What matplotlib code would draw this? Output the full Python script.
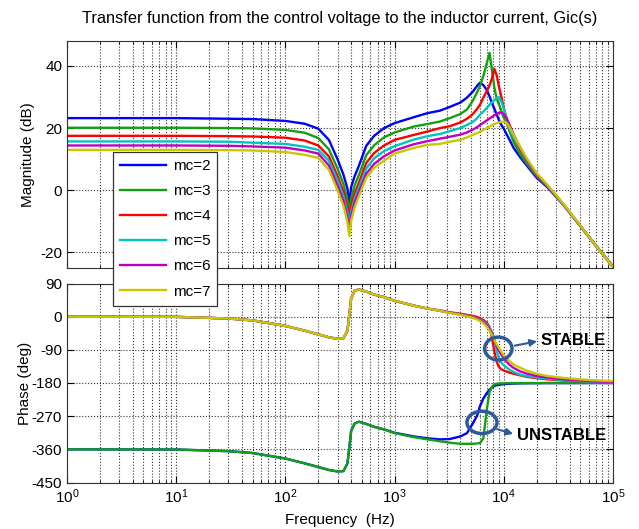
import matplotlib
matplotlib.use("Agg")
import matplotlib.pyplot as plt
from matplotlib.patches import Ellipse
import numpy as np

plt.rcParams['font.family'] = ['Liberation Sans', 'DejaVu Sans']
plt.rcParams['axes.unicode_minus'] = False

# ---------------- data ----------------
freq = [1, 10, 30, 50, 100, 150, 200, 250, 300, 340, 370, 385, 400, 430, 470, 550,
        650, 800, 1000, 1500, 2000, 2600, 3200, 4000, 4600, 5200, 5700, 6050, 6500,
        7000, 7400, 7800, 8200, 8600, 9000, 9500, 10000, 10600, 11300, 12300, 14000,
        16000, 20000, 25000, 35000, 50000, 70000, 100000]

labels = ['mc=2', 'mc=3', 'mc=4', 'mc=5', 'mc=6', 'mc=7']

mag_mc2 = [23.2, 23.2, 23.0, 22.9, 22.3, 21.4, 19.8, 16.2, 10.0, 5.0, 0.5, -4.5, 1.0, 4.5, 7.8, 14.3,
           17.5, 20.0, 21.6, 23.5, 24.8, 25.6, 26.8, 28.2, 29.8, 31.7, 33.6, 34.6, 33.8,
           32.2, 30.2, 28.0, 26.2, 24.4, 22.6, 21.0, 19.8, 18.0, 16.2, 13.6, 10.8,
           8.2, 4.0, 1.0, -4.6, -11.4, -17.9, -24.6]
mag_mc3 = [20.1, 20.1, 20.0, 19.9, 19.4, 18.5, 16.8, 13.2, 7.0, 2.0, -3.0, -7.6, -2.5, 1.5, 4.8, 11.3,
           14.5, 17.0, 18.6, 20.5, 21.3, 22.1, 23.2, 24.5, 26.0, 28.8, 31.5, 33.5, 36.8,
           41.0, 44.2, 38.5, 33.0, 29.5, 27.8, 25.5, 23.3, 21.6, 19.0, 15.5, 11.8,
           8.8, 4.5, 1.2, -4.6, -11.4, -17.9, -24.6]
mag_mc4 = [17.5, 17.5, 17.4, 17.3, 16.9, 16.0, 14.4, 10.9, 4.6, -0.5, -5.5, -10.0, -5.0, -1.0, 2.3, 8.8,
           12.0, 14.4, 16.2, 17.8, 18.9, 20.0, 20.6, 21.8, 23.0, 24.5, 26.2, 27.5, 29.8,
           32.0, 33.8, 36.0, 39.0, 37.0, 33.5, 30.0, 26.5, 23.0, 20.3, 17.0, 13.3,
           9.8, 4.8, 1.4, -4.5, -11.4, -17.9, -24.6]
mag_mc5 = [15.7, 15.7, 15.6, 15.3, 14.9, 14.0, 13.0, 9.5, 3.2, -2.0, -7.3, -11.8, -6.8, -2.7, 0.8, 7.0,
           10.3, 12.6, 14.2, 16.3, 17.4, 18.1, 19.0, 20.0, 21.0, 22.0, 23.2, 24.3, 25.3,
           26.5, 27.5, 28.3, 29.0, 29.7, 29.9, 28.5, 26.3, 23.0, 19.8, 17.0, 13.8,
           10.0, 5.0, 1.5, -4.5, -11.4, -17.9, -24.6]
mag_mc6 = [14.4, 14.4, 14.3, 14.1, 13.7, 12.8, 11.8, 8.0, 1.5, -3.5, -8.8, -13.3, -8.3, -4.0, -0.6, 5.3,
           8.5, 10.9, 12.8, 14.8, 15.8, 16.6, 17.2, 17.9, 18.6, 19.5, 20.3, 21.0, 21.7,
           22.5, 23.1, 23.6, 24.1, 24.6, 24.9, 25.0, 24.5, 23.2, 21.0, 18.0, 14.0,
           10.3, 5.2, 1.6, -4.4, -11.4, -17.9, -24.6]
mag_mc7 = [13.0, 13.0, 12.9, 12.8, 12.3, 11.4, 10.4, 6.6, 0.0, -5.0, -10.3, -14.7, -9.8, -5.5, -2.0, 4.0,
           7.2, 9.5, 11.8, 13.6, 14.6, 14.9, 15.6, 16.2, 17.0, 17.8, 18.4, 18.8, 19.4,
           20.0, 20.5, 20.9, 21.3, 21.6, 21.8, 22.0, 22.1, 21.7, 20.3, 17.8, 14.1,
           10.6, 5.5, 1.8, -4.3, -11.3, -17.9, -24.6]

ph_mc2 = [-360, -360.5, -365, -370, -385, -398, -408, -416, -420, -419, -398, -355, -310, -290, -285, -291,
          -299, -306, -315, -325, -330, -333, -332, -325, -316, -290, -268, -243, -222,
          -207, -198, -192, -188, -186, -185, -184, -183, -182.5, -182, -181.5, -181,
          -180.7, -180.5, -180.3, -180.2, -180.1, -180, -180]
ph_mc3 = [-360, -360.5, -365, -370, -385, -398, -408, -416, -420, -419, -398, -355, -310, -290, -285, -291,
          -299, -306, -316, -327, -333, -338, -342, -345, -345, -345, -344, -343, -330,
          -250, -205, -190, -184, -182, -181.5, -181, -180.8, -180.6, -180.5, -180.4, -180.3,
          -180.2, -180.1, -180, -180, -180, -180, -180]
ph_mc4 = [0, -0.5, -5, -10, -25, -38, -48, -56, -60, -59, -38, 5, 50, 70, 74, 68,
          60, 53, 43, 30, 22, 17, 12, 8, 5, 2, -1, -4, -9,
          -16, -28, -58, -95, -122, -136, -143, -146, -149, -152, -155, -159,
          -163, -167, -170, -173, -175, -177, -178]
ph_mc5 = [0, -0.5, -5, -10, -25, -38, -48, -56, -60, -59, -38, 5, 50, 70, 74, 68,
          60, 53, 43, 30, 22, 16, 11, 6, 3, -1, -5, -8, -13,
          -20, -30, -42, -62, -93, -113, -125, -132, -138, -144, -150, -157,
          -161, -165, -168, -172, -175, -177, -178]
ph_mc6 = [0, -0.5, -5, -10, -25, -38, -48, -56, -60, -59, -38, 5, 50, 70, 74, 68,
          60, 53, 43, 30, 22, 16, 11, 6, 2, -2, -6, -10, -15,
          -23, -33, -46, -66, -80, -92, -103, -113, -122, -131, -139, -148,
          -154, -161, -165, -170, -173, -176, -177]
ph_mc7 = [0, -0.5, -5, -10, -25, -38, -48, -56, -60, -59, -38, 5, 50, 70, 74, 68,
          60, 53, 43, 30, 22, 16, 10, 5, 1, -3, -8, -12, -18,
          -28, -38, -50, -64, -75, -84, -95, -105, -112, -121, -130, -138,
          -146, -155, -161, -166, -170, -173, -175]

mags = [mag_mc2, mag_mc3, mag_mc4, mag_mc5, mag_mc6, mag_mc7]
phases = [ph_mc2, ph_mc3, ph_mc4, ph_mc5, ph_mc6, ph_mc7]
colors = ['#0000FF', '#12A012', '#FF0000', '#00C4C4', '#C000C0', '#C8C800']

mag_ticks = [-20, 0, 20, 40]
phase_ticks = [-450, -360, -270, -180, -90, 0, 90]

# ---------------- figure ----------------
W, H = 639, 529
fig = plt.figure(figsize=(W / 100, H / 100), dpi=100)
L, R = 67, 613
ax1 = fig.add_axes([L / W, 1 - 268 / H, (R - L) / W, (268 - 41) / H])
ax2 = fig.add_axes([L / W, 1 - 482.5 / H, (R - L) / W, (482.5 - 283.5) / H])

lines = []
for m, c, lab in zip(mags, colors, labels):
    ln, = ax1.semilogx(freq, m, color=c, lw=1.7, label=lab)
    lines.append(ln)
for p, c in zip(phases, colors):
    ax2.semilogx(freq, p, color=c, lw=1.7)

for ax in (ax1, ax2):
    ax.set_xlim(1, 1e5)
    ax.grid(True, which='major', linestyle=':', color='#333333', linewidth=0.8)
    ax.grid(True, which='minor', axis='x', linestyle=':', color='#333333', linewidth=0.8)
    ax.tick_params(which='both', direction='in', top=True, right=True, labelsize=11)
    ax.tick_params(which='major', length=5)
    ax.tick_params(which='minor', length=2.5)
    for s in ax.spines.values():
        s.set_linewidth(0.8)
        s.set_color('#333333')

ax1.set_ylim(-25, 48)
ax1.set_yticks(mag_ticks)
ax1.set_xticklabels([])
ax1.tick_params(axis='x', which='both', labelbottom=False)
ax1.set_ylabel('Magnitude (dB)', fontsize=11, labelpad=4)
ax1.set_title('Transfer function from the control voltage to the inductor current, Gic(s)',
              fontsize=11.8, pad=13)

ax2.set_ylim(-450, 90)
ax2.set_yticks(phase_ticks)
ax2.set_ylabel('Phase (deg)', fontsize=11, labelpad=0)
ax2.set_xlabel('Frequency  (Hz)', fontsize=11, labelpad=5)

# annotations
acol = '#2E5A96'
e1 = Ellipse((0.790, 0.673), 0.050, 0.115, transform=ax2.transAxes, fill=False,
             edgecolor=acol, lw=2.5, zorder=5)
e2 = Ellipse((0.760, 0.302), 0.055, 0.112, transform=ax2.transAxes, fill=False,
             edgecolor=acol, lw=2.5, zorder=5)
ax2.add_patch(e1)
ax2.add_patch(e2)
ax2.annotate('', xy=(0.866, 0.712), xytext=(0.815, 0.685), xycoords='axes fraction',
             arrowprops=dict(arrowstyle='-|>', color=acol, lw=1.5, mutation_scale=10))
ax2.annotate('', xy=(0.822, 0.240), xytext=(0.783, 0.272), xycoords='axes fraction',
             arrowprops=dict(arrowstyle='-|>', color=acol, lw=1.5, mutation_scale=10))
ax2.text(0.868, 0.712, 'STABLE', transform=ax2.transAxes, fontsize=12,
         fontweight='bold', va='center', ha='left', zorder=6)
ax2.text(0.825, 0.238, 'UNSTABLE', transform=ax2.transAxes, fontsize=12,
         fontweight='bold', va='center', ha='left', zorder=6)

leg = fig.legend(handles=lines, labels=labels, loc='upper left',
                 bbox_to_anchor=(113 / W, 1 - 152 / H), fontsize=11,
                 handlelength=3.0, handletextpad=0.45, labelspacing=0.73,
                 borderpad=0.45, borderaxespad=0, fancybox=False, framealpha=1,
                 edgecolor='#333333')
leg.get_frame().set_linewidth(0.9)

fig.savefig('out.png', dpi=100)
